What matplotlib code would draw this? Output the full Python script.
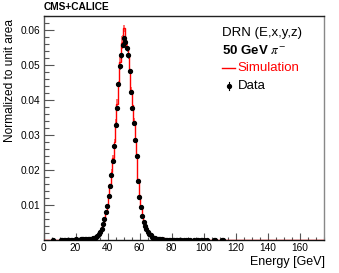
import numpy as np
import matplotlib
matplotlib.use("Agg")
import matplotlib.pyplot as plt

plt.rcParams['font.family'] = ['Liberation Sans', 'DejaVu Sans']
plt.rcParams['mathtext.fontset'] = 'stix'

# ---- data: 200 bins from 0 to 175 GeV ----
x_min, x_max, n_bins = 0.0, 175.0, 200

data_values = [
    0, 0, 0, 0, 0, 0, 0.0001, 0, 0, 0,
    0, 0, 0.0001, 0.0001, 0.0001, 0.0001, 0.0001, 0.0001, 0.0001, 0.0001,
    0.0001, 0.0001, 0.0001, 0.0002, 0.0001, 0.0001, 0.0002, 0.0002, 0.0002, 0.0002,
    0.0002, 0.0002, 0.0003, 0.0003, 0.0004, 0.0005, 0.0007, 0.0009, 0.0012, 0.0016,
    0.0023, 0.0032, 0.0045, 0.0060, 0.0079, 0.0097, 0.0125, 0.0155, 0.0187, 0.0226,
    0.0268, 0.0330, 0.0378, 0.0445, 0.0497, 0.0528, 0.0558, 0.0576, 0.0566, 0.0548,
    0.0528, 0.0482, 0.0422, 0.0378, 0.0335, 0.0285, 0.0240, 0.0170, 0.0123, 0.0095,
    0.0068, 0.0052, 0.0040, 0.0031, 0.0023, 0.0017, 0.0013, 0.0010, 0.0007, 0.0005,
    0.0003, 0.0003, 0.0002, 0.0002, 0.0002, 0.0001, 0.0001, 0.0001, 0.0001, 0.0001,
    0.0001, 0.0001, 0.0001, 0.0001, 0.0001, 0.0001, 0.0001, 0.0001, 0.0001, 0,
    0.0001, 0.0001, 0, 0.0001, 0.0001, 0, 0, 0.0001, 0, 0.0001,
    0.0001, 0, 0.0001, 0.0001, 0.0001, 0, 0.0001, 0, 0, 0,
    0, 0.0001, 0.0001, 0, 0, 0, 0, 0.0001, 0.0001, 0,
] + [0] * 70

# data errors for bins 36..76 (others are tiny)
data_err_first_bin = 36
data_err_peak = [
    0.0002, 0.0002, 0.0002, 0.0003, 0.0003, 0.0003, 0.0004, 0.0004, 0.0004, 0.0005,
    0.0005, 0.0005, 0.0005, 0.0005, 0.0006, 0.0006, 0.0006, 0.0006, 0.0007, 0.0007,
    0.0007, 0.0007, 0.0007, 0.0007, 0.0007, 0.0006, 0.0006, 0.0006, 0.0006, 0.0005,
    0.0005, 0.0005, 0.0004, 0.0004, 0.0003, 0.0003, 0.0003, 0.0002, 0.0002, 0.0002, 0.0002,
]
data_err_tail = 0.00008

sim_values = [
    0, 0, 0, 0, 0, 0, 0, 0, 0, 0,
    0, 0, 0, 0.0001, 0, 0.0001, 0, 0.0001, 0.0001, 0.0001,
    0.0001, 0.0001, 0.0001, 0.0001, 0.0002, 0.0002, 0.0002, 0.0002, 0.0002, 0.0003,
    0.0003, 0.0003, 0.0004, 0.0004, 0.0005, 0.0006, 0.0008, 0.0010, 0.0013, 0.0017,
    0.0022, 0.0030, 0.0043, 0.0058, 0.0078, 0.0098, 0.0128, 0.0160, 0.0195, 0.0235,
    0.0280, 0.0335, 0.0390, 0.0440, 0.0510, 0.0562, 0.0566, 0.0605, 0.0572, 0.0550,
    0.0530, 0.0490, 0.0430, 0.0385, 0.0340, 0.0290, 0.0245, 0.0175, 0.0130, 0.0098,
    0.0070, 0.0053, 0.0040, 0.0030, 0.0022, 0.0016, 0.0012, 0.0009, 0.0006, 0.0005,
    0.0004, 0.0003, 0.0003, 0.0002, 0.0002, 0.0005, 0.0004, 0.0001, 0.0001, 0.0002,
    0.0001, 0.0001, 0.0001, 0.0001, 0.0001, 0.0001, 0.0001, 0, 0.0001, 0,
    0.0001, 0, 0.0001, 0, 0, 0.0001, 0, 0, 0, 0,
    0, 0, 0, 0, 0.0002, 0.0002, 0, 0, 0, 0,
    0, 0.0001, 0, 0, 0.0001, 0, 0, 0, 0, 0,
    0, 0, 0, 0, 0, 0, 0, 0, 0, 0,
    0, 0, 0.0001, 0.0001, 0, 0, 0, 0, 0, 0.0001,
    0, 0, 0, 0.0001, 0, 0, 0, 0, 0, 0,
] + [0] * 40

# simulation uncertainty band for bins 48..66
sim_err_first_bin = 48
sim_err_peak = [
    0.0008, 0.0009, 0.0010, 0.0011, 0.0012, 0.0013, 0.0018, 0.0022, 0.0021, 0.0010,
    0.0010, 0.0009, 0.0009, 0.0009, 0.0008, 0.0008, 0.0008, 0.0007, 0.0007,
]

x_ticks = [0, 20, 40, 60, 80, 100, 120, 140, 160]
y_ticks = [0.01, 0.02, 0.03, 0.04, 0.05, 0.06]

# ---- figure ----
W, H = 339, 273
fig = plt.figure(figsize=(W / 100, H / 100), dpi=100)
L, R, T, B = 43.5, 323.5, 16, 240
ax = fig.add_axes([L / W, 1 - B / H, (R - L) / W, (B - T) / H])

edges = np.linspace(x_min, x_max, n_bins + 1)
centers = 0.5 * (edges[:-1] + edges[1:])
bw = edges[1] - edges[0]
sim = np.array(sim_values, dtype=float)
dat = np.array(data_values, dtype=float)

# simulation band
sim_err = np.zeros(n_bins)
sim_err[sim_err_first_bin:sim_err_first_bin + len(sim_err_peak)] = sim_err_peak
mask = sim_err > 0
ax.bar(centers[mask], 2 * sim_err[mask], bottom=sim[mask] - sim_err[mask], width=bw,
       color='#ff0000', alpha=0.55, linewidth=0, zorder=2)

# simulation histogram
ax.stairs(sim, edges, color='#ff0000', linewidth=1.0, zorder=3)

# data points
derr = np.full(n_bins, data_err_tail)
derr[data_err_first_bin:data_err_first_bin + len(data_err_peak)] = data_err_peak
dm = dat > 0
ax.errorbar(centers[dm], dat[dm], yerr=derr[dm], fmt='o', color='black',
            markersize=2.8, elinewidth=0.8, capsize=0, zorder=4)

ax.set_xlim(x_min, x_max)
ax.set_ylim(0, 0.064)
ax.set_xticks(x_ticks)
ax.set_xticklabels([str(v) for v in x_ticks])
ax.set_xticks(np.arange(0, 176, 5), minor=True)
ax.set_yticks(y_ticks)
ax.set_yticklabels(['0.01', '0.02', '0.03', '0.04', '0.05', '0.06'])
ax.set_yticks(np.arange(0, 0.0641, 0.002), minor=True)

ax.tick_params(axis='both', which='both', direction='in', colors='#555555',
               labelcolor='black', labelsize=7.3, width=0.8)
ax.tick_params(axis='y', which='major', length=7, pad=2)
ax.tick_params(axis='y', which='minor', length=3.5)
ax.tick_params(axis='x', which='major', length=5, pad=2.5)
ax.tick_params(axis='x', which='minor', length=2.5)

for side, col in [('left', '#555555'), ('bottom', '#111111'), ('top', '#222222'), ('right', '#888888')]:
    ax.spines[side].set_color(col)
    ax.spines[side].set_linewidth(1.0)

# y-axis title placed in figure coordinates (rotated, centred on its span)
fig.text(10 / W, 1 - 80 / H, 'Normalized to unit area', fontsize=8.6, rotation=90,
         ha='center', va='center')
fig.text(325 / W, 1 - 262 / H, 'Energy [GeV]', fontsize=9, ha='right', va='center')

fig.text(44 / W, 1 - 7.5 / H, 'CMS+CALICE', fontsize=7.3, fontweight='bold', ha='left', va='center')

# legend / labels
fs = 9.5
fig.text(222 / W, 1 - 33 / H, 'DRN (E,x,y,z)', fontsize=fs, ha='left', va='center')
fig.text(222 / W, 1 - 50 / H, r'50 GeV $\pi^{-}$', fontsize=fs, fontweight='bold', ha='left', va='center')
fig.lines.append(matplotlib.lines.Line2D([222 / W, 235 / W], [1 - 68 / H, 1 - 68 / H],
                                         transform=fig.transFigure, color='#ff0000', linewidth=1.0))
fig.text(237 / W, 1 - 68 / H, 'Simulation', fontsize=fs, color='#ff0000', ha='left', va='center')
fig.lines.append(matplotlib.lines.Line2D([228.5 / W, 228.5 / W], [1 - 82 / H, 1 - 90 / H],
                                         transform=fig.transFigure, color='black', linewidth=0.8))
fig.lines.append(matplotlib.lines.Line2D([228.5 / W], [1 - 86 / H], marker='o', markersize=2.8,
                                         transform=fig.transFigure, color='black', linestyle='none'))
fig.text(238 / W, 1 - 86 / H, 'Data', fontsize=fs, ha='left', va='center')

fig.savefig('out.png', dpi=100)
